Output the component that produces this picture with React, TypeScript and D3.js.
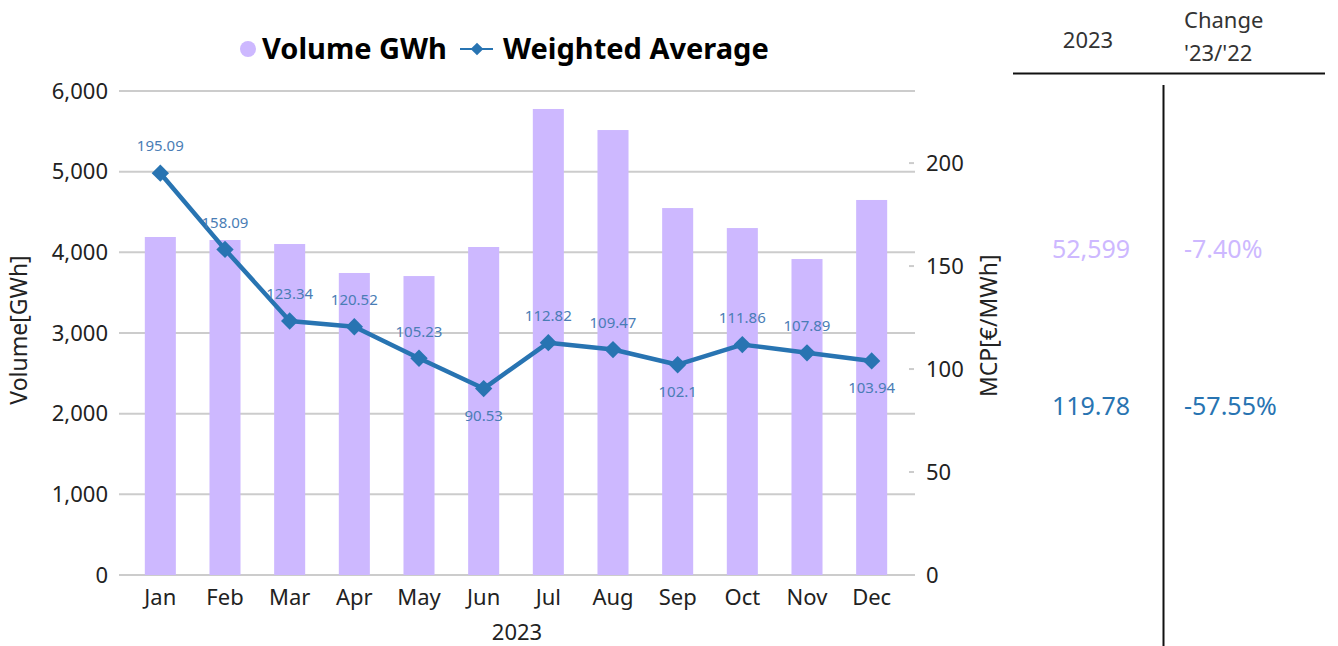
import React from "react";
import * as d3 from "d3";

const months = ["Jan", "Feb", "Mar", "Apr", "May", "Jun", "Jul", "Aug", "Sep", "Oct", "Nov", "Dec"];
const volume = [4190, 4153, 4103, 3744, 3706, 4066, 5777, 5516, 4549, 4301, 3917, 4649];
const weightedAvg = [195.09, 158.09, 123.34, 120.52, 105.23, 90.53, 112.82, 109.47, 102.1, 111.86, 107.89, 103.94];
const volumeTicks = [0, 1000, 2000, 3000, 4000, 5000, 6000];
const priceTicks = [0, 50, 100, 150, 200];
const summaryRows = [
  { total: "52,599", change: "-7.40%" },
  { total: "119.78", change: "-57.55%" },
];

const W = 1338;
const H = 646;
const BAR = "#cdb8ff";
const LINE = "#2874b2";
const FONT = "'Noto Sans', 'Open Sans', sans-serif";

const App = () => {
  const x = d3.scaleBand<string>().domain(months).range([128, 904]).paddingInner(0.52).paddingOuter(0.26);
  const yL = d3.scaleLinear().domain([0, 6000]).range([575, 91]);
  const yR = d3.scaleLinear().domain([0, 235]).range([575, 91]);
  const cx = (m: string) => (x(m) as number) + x.bandwidth() / 2;

  const line = d3
    .line<number>()
    .x((_, i) => cx(months[i]))
    .y((d) => yR(d));

  const fmt = d3.format(",");
  const seriesColors = [BAR, LINE];
  const diamond = d3.symbol(d3.symbolSquare, 150)() as string;
  const legendDiamond = d3.symbol(d3.symbolSquare, 80)() as string;

  return (
    <div style={{ position: "absolute", left: 0, top: 0 }}>
      <svg width={W} height={H} style={{ display: "block", fontFamily: FONT }}>
        {/* legend */}
        <g>
          <circle cx={248} cy={49} r={8} fill={BAR} />
          <text x={262} y={59} fontSize={29} fontWeight="bold" fill="#000">Volume GWh</text>
          <line x1={460} x2={493} y1={49} y2={49} stroke={LINE} strokeWidth={2} />
          <path d={legendDiamond} transform="translate(477,49) rotate(45)" fill={LINE} />
          <text x={503} y={59} fontSize={29} fontWeight="bold" fill="#000">Weighted Average</text>
        </g>

        {/* grid + left axis */}
        {volumeTicks.map((t) => (
          <g key={t}>
            <line x1={119} x2={915} y1={yL(t)} y2={yL(t)} stroke="#cccccc" strokeWidth={2} />
            <text x={108} y={yL(t)} dy="0.35em" textAnchor="end" fontSize={22} fill="#222">{fmt(t)}</text>
          </g>
        ))}
        <text transform={`translate(27,${yL(3000) - 3}) rotate(-90)`} textAnchor="middle" fontSize={23} fill="#222">Volume[GWh]</text>

        {/* right axis */}
        {priceTicks.map((t) => (
          <g key={t}>
            <line x1={909} x2={914} y1={yR(t)} y2={yR(t)} stroke="#ccc" strokeWidth={2} />
            <text x={926} y={yR(t)} dy="0.35em" fontSize={22} fill="#222">{t}</text>
          </g>
        ))}
        <text transform={`translate(997,${yR(121)}) rotate(-90)`} textAnchor="middle" fontSize={23} fill="#222">MCP[€/MWh]</text>

        {/* bars */}
        {months.map((m, i) => (
          <rect key={m} x={x(m)} y={yL(volume[i])} width={x.bandwidth()} height={yL(0) - yL(volume[i])} fill={BAR} />
        ))}

        {/* x axis labels */}
        {months.map((m) => (
          <text key={m} x={cx(m)} y={605} textAnchor="middle" fontSize={22} fill="#222">{m}</text>
        ))}
        <text x={(119 + 915) / 2} y={640} textAnchor="middle" fontSize={22} fill="#222">2023</text>

        {/* line */}
        <path d={line(weightedAvg) as string} fill="none" stroke={LINE} strokeWidth={4.5} strokeLinejoin="round" />
        {weightedAvg.map((v, i) => (
          <path key={i} d={diamond} transform={`translate(${cx(months[i])},${yR(v)}) rotate(45)`} fill={LINE} />
        ))}
        {weightedAvg.map((v, i) => {
          const prev = i > 0 ? weightedAvg[i - 1] : Infinity;
          const next = i < weightedAvg.length - 1 ? weightedAvg[i + 1] : Infinity;
          const below = v < prev && v < next;
          return (
            <text key={i} x={cx(months[i])} y={yR(v) + (below ? 27 : -27)} dy="0.35em" textAnchor="middle" fontSize={15} fill="#4a7db5">
              {String(v)}
            </text>
          );
        })}

        {/* summary table */}
        <text x={1088} y={48} textAnchor="middle" fontSize={22} fill="#333">2023</text>
        <text x={1184} y={28} fontSize={22} fill="#333">Change</text>
        <text x={1184} y={61} fontSize={22} fill="#333">'23/'22</text>
        <line x1={1013} x2={1325} y1={73.5} y2={73.5} stroke="#111" strokeWidth={2} />
        <line x1={1163.5} x2={1163.5} y1={85} y2={646} stroke="#111" strokeWidth={2} />
        {summaryRows.map((r, i) => (
          <g key={i}>
            <text x={1091} y={i === 0 ? 258 : 415} textAnchor="middle" fontSize={25} fill={seriesColors[i]}>{r.total}</text>
            <text x={1184} y={i === 0 ? 258 : 415} fontSize={25} fill={seriesColors[i]}>{r.change}</text>
          </g>
        ))}
      </svg>
    </div>
  );
};

export default App;
